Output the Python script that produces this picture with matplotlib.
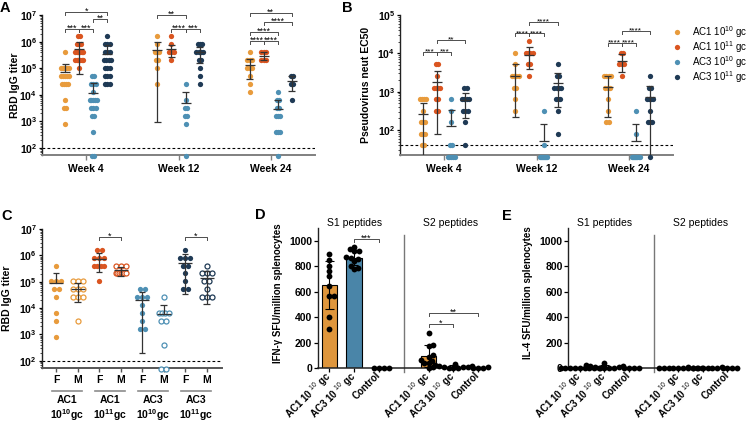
import numpy as np
import matplotlib
matplotlib.use('Agg')
import matplotlib.pyplot as plt
from matplotlib.lines import Line2D
from matplotlib.ticker import LogLocator, FixedLocator, FuncFormatter, NullFormatter
from matplotlib.transforms import blended_transform_factory

plt.rcParams['font.family'] = ['Liberation Sans', 'DejaVu Sans']
plt.rcParams['mathtext.fontset'] = 'custom'
plt.rcParams['mathtext.rm'] = 'Liberation Sans'
plt.rcParams['mathtext.bf'] = 'Liberation Sans:bold'
plt.rcParams['mathtext.it'] = 'Liberation Sans:italic'

nan = np.nan

# groups
group_labels = ['AC1 10$^{10}$ gc', 'AC1 10$^{11}$ gc', 'AC3 10$^{10}$ gc', 'AC3 10$^{11}$ gc']
group_colors = ['#E89B3C', '#DA5520', '#4E90B4', '#1F3A55']
weeks = ['Week 4', 'Week 12', 'Week 24']

# A: RBD IgG titer, (titer, number of mice)
rbd_wk4 = [
    [(409600, 1), (102400, 6), (51200, 5), (25600, 4), (6400, 1), (3200, 2), (800, 1)],
    [(1638400, 2), (819200, 3), (409600, 7), (204800, 7), (102400, 1)],
    [(51200, 2), (25600, 3), (12800, 1), (6400, 5), (3200, 3), (1600, 2), (400, 1), (50, 2)],
    [(1638400, 1), (819200, 3), (409600, 3), (204800, 4), (102400, 3), (51200, 3), (25600, 3)],
]
rbd_wk12 = [
    [(1638400, 1), (819200, 1), (409600, 3), (204800, 2), (102400, 1), (25600, 1)],
    [(1638400, 1), (819200, 1), (409600, 3), (204800, 1)],
    [(25600, 1), (6400, 1), (3200, 2), (1600, 2), (800, 1), (50, 1)],
    [(819200, 3), (409600, 4), (204800, 2), (102400, 1), (51200, 1), (25600, 1)],
]
rbd_wk24 = [
    [(409600, 1), (204800, 3), (102400, 3), (51200, 1), (25600, 1), (12800, 1)],
    [(409600, 3), (204800, 3)],
    [(12800, 1), (6400, 2), (3200, 2), (1600, 3), (400, 3), (50, 1)],
    [(51200, 2), (25600, 2), (6400, 1)],
]
rbd_mean = [[70000, 507000, 12000, 334000], [470000, 515000, 5000, 400000], [130000, 300000, 3000, 32000]]
rbd_hi = [[150000, 950000, 28000, 740000], [940000, 755000, 12500, 640000], [230000, 400000, 6500, 51000]]
rbd_lo = [[nan, 62000, nan, nan], [950, 275000, nan, 160000], [40000, 200000, nan, 14000]]

# B: pseudovirus neutralisation EC50
neut_wk4 = [
    [(640, 4), (320, 1), (160, 3), (80, 3), (40, 2)],
    [(5120, 2), (2560, 1), (1280, 4), (640, 2), (320, 2)],
    [(640, 1), (320, 1), (160, 1), (40, 2), (20, 5)],
    [(1280, 2), (640, 4), (320, 3), (160, 1), (40, 1)],
]
neut_wk12 = [
    [(10240, 1), (5120, 1), (2560, 4), (1280, 2), (640, 1), (320, 1)],
    [(20480, 1), (10240, 4), (5120, 2), (2560, 1)],
    [(320, 1), (40, 1), (20, 8)],
    [(5120, 1), (2560, 2), (1280, 4), (640, 3), (320, 1), (80, 1)],
]
neut_wk24 = [
    [(2560, 4), (1280, 3), (640, 1), (320, 1), (160, 2)],
    [(10240, 2), (5120, 3), (2560, 1)],
    [(320, 1), (80, 1), (20, 8)],
    [(2560, 1), (1280, 2), (640, 4), (320, 1), (160, 3), (20, 1)],
]
neut_mean = [[257, 1780, 125, 600], [2600, 9300, 52, 1700], [1300, 6400, 52, 708]]
neut_hi = [[500, 3470, 330, 950], [5400, 14700, 146, 3000], [2500, 9500, 146, 1420]]
neut_lo = [[5, 81, nan, 200], [220, 3800, nan, 400], [220, 3300, nan, 5]]

# C: week 4 RBD IgG titer by sex
sex_labels = ['F', 'M', 'F', 'M', 'F', 'M', 'F', 'M']
sex_titer = [
    [(409600, 1), (102400, 3), (51200, 2), (25600, 1), (6400, 1), (3200, 1), (800, 1)],
    [(102400, 3), (51200, 3), (25600, 3), (3200, 1)],
    [(1638400, 2), (819200, 3), (409600, 4), (102400, 1)],
    [(409600, 3), (204800, 7)],
    [(51200, 2), (25600, 3), (12800, 1), (6400, 1), (3200, 1), (1600, 2)],
    [(25600, 1), (6400, 4), (3200, 2), (400, 1), (50, 2)],
    [(1638400, 1), (819200, 3), (409600, 2), (204800, 1), (102400, 1), (51200, 2)],
    [(409600, 1), (204800, 3), (102400, 2), (51200, 1), (25600, 3)],
]
sex_mean = [85500, 54000, 747500, 266000, 20000, 5800, 532000, 136000]
sex_hi = [207000, 90000, 1270000, 365000, 39000, 13500, 1090000, 258000]
sex_lo = [nan, 17500, 223000, 167000, 200, nan, 33000, 14000]
pair_names = ['AC1', 'AC1', 'AC3', 'AC3']
pair_doses = [r'$\mathbf{10^{10}gc}$', r'$\mathbf{10^{11}gc}$', r'$\mathbf{10^{10}gc}$', r'$\mathbf{10^{11}gc}$']

# D / E: ELISpot SFU per million splenocytes
spot_labels = ['AC1 10 $^{10}$ gc', 'AC3 10 $^{10}$ gc', 'Control']
ifn_s1 = [[895, 851, 804, 764, 725, 647, 568, 571, 406, 309],
          [955, 935, 925, 920, 875, 870, 860, 845, 800, 790, 780],
          [3, 5, 2, 4]]
ifn_s2 = [[280, 185, 178, 105, 92, 65, 60, 40, 38, 12, 0],
          [35, 25, 20, 15, 12, 10, 8, 6, 5, 3],
          [5, 8, 3, 6]]
il4_s1 = [[5, 3, 8, 2, 4, 6, 1, 3, 0, 2],
          [45, 25, 15, 10, 8, 6, 5, 3, 2, 20],
          [2, 3, 1, 2]]
il4_s2 = [[4, 3, 2, 5, 1, 3, 2, 4, 0, 2],
          [10, 8, 6, 5, 4, 3, 2, 6],
          [2, 1, 3, 2]]
bar_colors = ['#DF963C', '#4A85A8', 'white']

W, H = 747, 426
fig = plt.figure(figsize=(W / 100, H / 100), dpi=100)


def add_ax(l, r, t, b):
    return fig.add_axes([l / W, 1 - b / H, (r - l) / W, (b - t) / H])


def expand(pairs):
    return np.repeat([float(v) for v, n in pairs], [n for v, n in pairs])


def row_offsets(vals, step_px, span_px):
    off = np.zeros(len(vals))
    for v in np.unique(vals):
        idx = np.flatnonzero(vals == v)
        n = len(idx)
        if n > 1:
            s = min(step_px, span_px / (n - 1))
            off[idx] = (np.arange(n) - (n - 1) / 2) * s
    return off


def swarm_px(ypx, diam, step=0.6):
    off = np.zeros(len(ypx))
    placed = []
    for i in np.argsort(ypx):
        k = 0
        found = None
        while found is None:
            for c in ([0.0] if k == 0 else [k * step, -k * step]):
                if all((c - px) ** 2 + (ypx[i] - py) ** 2 >= diam ** 2 for px, py in placed):
                    found = c
                    break
            k += 1
        off[i] = found
        placed.append((found, ypx[i]))
    return off


def draw_err(ax, x, m, hi, lo, half_mean, half_cap, color='#333333', lw=0.9):
    kw = dict(color=color, lw=lw, zorder=4)
    ax.hlines(m, x - half_mean, x + half_mean, **kw)
    ax.vlines(x, m, hi, **kw)
    ax.hlines(hi, x - half_cap, x + half_cap, **kw)
    if not np.isnan(lo):
        ax.vlines(x, lo, m, **kw)
        ax.hlines(lo, x - half_cap, x + half_cap, **kw)


def bracket(ax, x1, x2, y, ylow, label, fs=6.5):
    ax.plot([x1, x1, x2, x2], [ylow, y, y, ylow], color='#4d4d4d', lw=0.7,
            clip_on=False, zorder=5)
    ax.annotate(label, xy=((x1 + x2) / 2, y), xytext=(0, -1.2), textcoords='offset points',
                ha='center', va='baseline', fontsize=fs, annotation_clip=False)


def log_axis(ax, lo_exp, hi_exp, first, last):
    ax.set_yscale('log')
    ax.set_ylim(10 ** lo_exp, 10 ** hi_exp)
    ax.yaxis.set_major_locator(FixedLocator([10.0 ** k for k in range(first, last + 1)]))
    ax.yaxis.set_major_formatter(FuncFormatter(
        lambda v, p: r'$\mathbf{10^{%d}}$' % int(round(np.log10(v)))))
    ax.yaxis.set_minor_locator(LogLocator(base=10, subs=np.arange(2, 10), numticks=30))
    ax.yaxis.set_minor_formatter(NullFormatter())
    ax.tick_params(axis='y', which='major', length=2.5, width=0.9, labelsize=7.5, pad=1)
    ax.tick_params(axis='y', which='minor', length=1.5, width=0.5)


def style(ax, bottom_color='#808080'):
    for s in ['top', 'right']:
        ax.spines[s].set_visible(False)
    ax.spines['left'].set_color('#222222')
    ax.spines['left'].set_linewidth(1.0)
    ax.spines['bottom'].set_color(bottom_color)
    ax.spines['bottom'].set_linewidth(1.4)


offsets = [-0.23, -0.077, 0.077, 0.23]


def week_panel(ax, data, means, his, los, px_unit):
    for wi, groups in enumerate(data):
        for gi, pairs in enumerate(groups):
            vals = expand(pairs)
            x0 = wi + offsets[gi]
            off = row_offsets(vals, 2.2, 7.5) / px_unit
            ax.plot(x0 + off, vals, 'o', ms=3.8, color=group_colors[gi], mec='none',
                    clip_on=False, zorder=3)
            draw_err(ax, x0, means[wi][gi], his[wi][gi], los[wi][gi],
                     5.0 / px_unit, 3.5 / px_unit)
    ax.set_xlim(-0.48, 2.48)
    ax.set_xticks(range(3))
    ax.set_xticklabels(weeks, fontweight='bold', fontsize=7.5)
    ax.tick_params(axis='x', length=3.5, width=1, color='#808080', pad=3)
    style(ax)


# ---- A ----
axA = add_ax(42, 315, 15, 155)
log_axis(axA, 1.74, 7, 2, 7)
week_panel(axA, [rbd_wk4, rbd_wk12, rbd_wk24], rbd_mean, rbd_hi, rbd_lo, 92.2)
axA.axhline(100, color='k', lw=0.8, ls=(0, (2.5, 2)), zorder=1)
axA.set_ylabel('RBD IgG titer', fontweight='bold', fontsize=7.5)
axA.yaxis.set_label_coords(-0.081, 0.5)
A_brackets = [(0, 0, 1, 6.46, '***'), (0, 1, 2, 6.46, '***'), (0, 2, 3, 6.85, '**'),
              (0, 0, 3, 7.10, '*'), (1, 1, 2, 6.46, '****'), (1, 2, 3, 6.46, '***'),
              (1, 0, 2, 7.0, '**'), (2, 0, 1, 6.03, '****'), (2, 1, 2, 6.03, '****'),
              (2, 0, 2, 6.37, '****'), (2, 1, 3, 6.75, '****'), (2, 0, 3, 7.06, '**')]
for wi, g1, g2, ly, lab in A_brackets:
    bracket(axA, wi + offsets[g1], wi + offsets[g2], 10 ** ly, 10 ** (ly - 0.11), lab)

# ---- B ----
axB = add_ax(400, 673, 15, 155.3)
log_axis(axB, 1.34, 5, 2, 5)
week_panel(axB, [neut_wk4, neut_wk12, neut_wk24], neut_mean, neut_hi, neut_lo, 92.2)
axB.axhline(40, color='k', lw=0.8, ls=(0, (2.5, 2)), zorder=1)
axB.set_ylabel('Pseudovirus neut EC50', fontweight='bold', fontsize=7.5)
axB.yaxis.set_label_coords(-0.107, 0.5)
B_brackets = [(0, 0, 1, 4.04, '***'), (0, 1, 2, 4.04, '***'), (0, 1, 3, 4.35, '**'),
              (1, 0, 1, 4.52, '****'), (1, 1, 2, 4.52, '****'), (1, 1, 3, 4.83, '****'),
              (2, 0, 1, 4.28, '****'), (2, 1, 2, 4.28, '****'), (2, 1, 3, 4.59, '****')]
for wi, g1, g2, ly, lab in B_brackets:
    bracket(axB, wi + offsets[g1], wi + offsets[g2], 10 ** ly, 10 ** (ly - 0.08), lab, fs=6)

# legend
for i, (lab, col) in enumerate(zip(group_labels, group_colors)):
    y = 1 - (31.7 + 15.2 * i) / H
    fig.add_artist(Line2D([676.7 / W], [y], marker='o', ms=3.8, color=col, mec='none',
                          ls='none', transform=fig.transFigure))
    fig.text(692 / W, y, lab, va='center', ha='left', fontsize=7)

# ---- C ----
axC = add_ax(41.7, 221.7, 229, 368.3)
log_axis(axC, 1.71, 7, 2, 7)
cpx = 21.5
for i, pairs in enumerate(sex_titer):
    vals = expand(pairs)
    col = group_colors[i // 2]
    off = row_offsets(vals, 5.0, 10.0) / cpx
    if i % 2 == 0:
        axC.plot(i + off, vals, 'o', ms=3.8, color=col, mec='none', clip_on=False, zorder=3)
    else:
        axC.plot(i + off, vals, 'o', ms=3.6, mfc='white', mec=col, mew=0.9,
                 clip_on=False, zorder=3)
    draw_err(axC, i, sex_mean[i], sex_hi[i], sex_lo[i], 7.0 / cpx, 3.2 / cpx)
axC.axhline(100, color='k', lw=0.8, ls=(0, (2.5, 2)), zorder=1)
axC.set_xlim(-0.67, 7.7)
axC.set_xticks(range(8))
axC.set_xticklabels(sex_labels, fontweight='bold', fontsize=7.5)
axC.tick_params(axis='x', length=3, width=1, color='#555555', pad=2)
style(axC, '#555555')
axC.set_ylabel('RBD IgG titer', fontweight='bold', fontsize=7.5)
axC.yaxis.set_label_coords(-0.167, 0.5)
trC = blended_transform_factory(axC.transData, axC.transAxes)
for k in range(4):
    xc = 2 * k + 0.5
    axC.plot([xc - 0.7, xc + 0.7], [-0.161, -0.161], color='#8c8c8c', lw=1.2,
             transform=trC, clip_on=False)
    axC.text(xc, -0.228, pair_names[k], transform=trC, ha='center', va='center',
             fontsize=7.5, fontweight='bold')
    axC.text(xc, -0.335, pair_doses[k], transform=trC, ha='center', va='center', fontsize=7.5)
for g1, g2 in [(2, 3), (6, 7)]:
    bracket(axC, g1, g2, 10 ** 6.68, 10 ** 6.57, '*')


# ---- D / E ----
def spot_panel(ax, s1, s2, ylabel, brackets, px_unit):
    xs = [0, 1, 2, 4, 5, 6]
    for x, vals, col in zip(xs, s1 + s2, bar_colors * 2):
        vals = np.asarray(vals, float)
        m, sd = vals.mean(), vals.std(ddof=1)
        ax.bar(x, m, width=0.63, color=col, edgecolor='black', lw=0.8, zorder=2)
        off = swarm_px(vals * 0.1273, 4.3) / px_unit
        ax.plot(x + off, vals, 'o', ms=4.2, color='black', mec='none', clip_on=False, zorder=3)
        ax.vlines(x, m - sd, m + sd, color='black', lw=0.8, zorder=4)
        ax.hlines([m - sd, m + sd], x - 0.17, x + 0.17, color='black', lw=0.8, zorder=4)
    ax.plot([3, 3], [-30, 1050], color='#777777', lw=1, clip_on=False)
    ax.set_xlim(-0.47, 6.48)
    ax.set_ylim(0, 1100)
    ax.set_yticks(range(0, 1001, 200))
    ax.set_yticklabels([str(v) for v in range(0, 1001, 200)], fontweight='bold')
    ax.tick_params(axis='y', length=3, width=0.9, labelsize=7.5, pad=1)
    ax.set_xticks(xs)
    ax.set_xticklabels(spot_labels * 2, rotation=45, ha='right', va='center',
                       rotation_mode='anchor', fontweight='bold', fontsize=7)
    ax.tick_params(axis='x', length=3, width=0.9, pad=1)
    style(ax, '#222222')
    ax.spines['bottom'].set_linewidth(1.1)
    ax.set_ylabel(ylabel, fontweight='bold', fontsize=7)
    ax.text(1, 1144, 'S1 peptides', ha='center', va='center', fontsize=7.5)
    ax.text(4.9, 1144, 'S2 peptides', ha='center', va='center', fontsize=7.5)
    for g1, g2, y, lab in brackets:
        bracket(ax, g1, g2, y, y - 24, lab)


axD = add_ax(317.7, 490, 228.3, 368.3)
spot_panel(axD, ifn_s1, ifn_s2, 'IFN-γ SFU/million splenocytes',
           [(1, 2, 1013, '***'), (4, 5, 348, '*'), (4, 6, 437, '**')], 24.8)
axD.yaxis.set_label_coords(-0.2, 0.54)

axE = add_ax(568.3, 739.3, 228.3, 368.3)
spot_panel(axE, il4_s1, il4_s2, 'IL-4 SFU/million splenocytes', [], 24.6)
axE.yaxis.set_label_coords(-0.205, 0.54)

# panel letters
for lab, x, y in [('A', 5, 8), ('B', 347, 8), ('C', 7, 216), ('D', 260, 215), ('E', 507, 216)]:
    fig.text(x / W, 1 - y / H, lab, fontsize=10.5, fontweight='bold', ha='center', va='center')

fig.savefig('out.png', dpi=100)
